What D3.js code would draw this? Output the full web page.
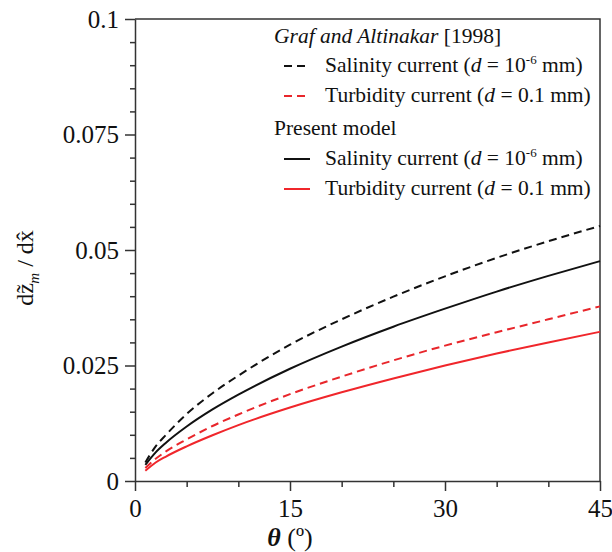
<!DOCTYPE html>
<html>
<head>
<meta charset="utf-8">
<script src="https://cdn.jsdelivr.net/npm/d3@7"></script>
</head>
<body>
<svg id="chart" width="612" height="552"></svg>
<script>
// Slope angle (degrees) at which each curve is sampled
const theta = [1, 2, 3, 5, 7.5, 10, 15, 20, 25, 30, 35, 40, 45];

// dz_m/dx for each case
const grafSalinity  = [0.0040, 0.0075, 0.0100, 0.0145, 0.0190, 0.0228, 0.0295, 0.0350, 0.0399, 0.0443, 0.0483, 0.0519, 0.0552];
const grafTurbidity = [0.0028, 0.0048, 0.0064, 0.0090, 0.0119, 0.0144, 0.0188, 0.0226, 0.0261, 0.0293, 0.0322, 0.0350, 0.0378];
const modelSalinity  = [0.0035, 0.0062, 0.0083, 0.0118, 0.0155, 0.0187, 0.0243, 0.0291, 0.0334, 0.0373, 0.0410, 0.0444, 0.0476];
const modelTurbidity = [0.0022, 0.0040, 0.0053, 0.0075, 0.0099, 0.0121, 0.0159, 0.0192, 0.0222, 0.0250, 0.0276, 0.0300, 0.0323];

const xTicks = [0, 15, 30, 45];
const xMinorTicks = [5, 10, 20, 25, 35, 40];
const yTicks = [0, 0.025, 0.05, 0.075, 0.1];
const yTickLabels = ["0", "0.025", "0.05", "0.075", "0.1"];

const FONT = "Liberation Serif";
document.body.style.margin = "0";
const svg = d3.select("#chart");
const plotLeft = 135, plotRight = 600, plotTop = 19, plotBottom = 481;

const x = d3.scaleLinear().domain([0, 45]).range([plotLeft, plotRight]);
const y = d3.scaleLinear().domain([0, 0.1]).range([plotBottom, plotTop]);

// Frame: top and right edges
svg.append("path")
  .attr("d", `M${plotLeft},${plotTop}H${plotRight}V${plotBottom}`)
  .attr("fill", "none").attr("stroke", "#333").attr("stroke-width", 1.5);

// X axis (major ticks labelled, minor ticks bare)
const xAxis = svg.append("g").attr("transform", `translate(0,${plotBottom})`);
xAxis.call(d3.axisBottom(x).tickValues(xTicks).tickSize(10).tickSizeOuter(0).tickPadding(8)
  .tickFormat(d3.format("d")));
xAxis.append("g").call(d3.axisBottom(x).tickValues(xMinorTicks).tickSize(6).tickFormat(""))
  .select(".domain").remove();

// Y axis
const yMinor = d3.range(0.005, 0.1, 0.005).filter(v => Math.abs(v / 0.025 - Math.round(v / 0.025)) > 1e-6);
const yAxis = svg.append("g").attr("transform", `translate(${plotLeft},0)`);
yAxis.call(d3.axisLeft(y).tickValues(yTicks).tickSize(10).tickSizeOuter(0).tickPadding(6)
  .tickFormat((d, i) => yTickLabels[i]));
yAxis.append("g").call(d3.axisLeft(y).tickValues(yMinor).tickSize(5).tickFormat(""))
  .select(".domain").remove();

svg.selectAll("g").attr("font-family", FONT);
svg.selectAll(".domain, .tick line").attr("stroke", "#333").attr("stroke-width", 1.5);
svg.selectAll(".tick text").attr("fill", "#111").attr("font-size", 25);
xAxis.selectAll(".tick text").attr("dy", "0.72em");

// Curves
const line = d3.line().x(d => x(d[0])).y(d => y(d[1])).curve(d3.curveMonotoneX);
const series = [
  { values: grafSalinity,   color: "#111",    dash: "8,5" },
  { values: grafTurbidity,  color: "#e8262b", dash: "8,5" },
  { values: modelSalinity,  color: "#111",    dash: null },
  { values: modelTurbidity, color: "#f0262b", dash: null }
];
series.forEach(s => {
  svg.append("path")
    .datum(theta.map((t, i) => [t, s.values[i]]))
    .attr("d", line)
    .attr("fill", "none")
    .attr("stroke", s.color)
    .attr("stroke-width", 2)
    .attr("stroke-dasharray", s.dash);
});

// Legend
const leg = svg.append("g").attr("font-family", FONT).attr("font-size", 21.5).attr("fill", "#111");
const head1 = leg.append("text").attr("x", 274).attr("y", 43);
head1.append("tspan").attr("font-style", "italic").text("Graf and Altinakar");
head1.append("tspan").text(" [1998]");
leg.append("text").attr("x", 274).attr("y", 135).text("Present model");

const entries = [
  { y: 72,  label: "Salinity current", d: "10", sup: "-6", unit: " mm)", s: series[0] },
  { y: 102, label: "Turbidity current", d: "0.1", sup: null, unit: " mm)", s: series[1] },
  { y: 165, label: "Salinity current", d: "10", sup: "-6", unit: " mm)", s: series[2] },
  { y: 195, label: "Turbidity current", d: "0.1", sup: null, unit: " mm)", s: series[3] }
];
entries.forEach(e => {
  leg.append("line")
    .attr("x1", 284).attr("x2", 310).attr("y1", e.y - 6).attr("y2", e.y - 6)
    .attr("stroke", e.s.color).attr("stroke-width", 2)
    .attr("stroke-dasharray", e.s.dash ? "8,5" : null);
  const t = leg.append("text").attr("x", 325).attr("y", e.y);
  t.append("tspan").text(e.label + " (");
  t.append("tspan").attr("font-style", "italic").text("d");
  t.append("tspan").text(" = " + e.d);
  if (e.sup) {
    t.append("tspan").attr("dy", -8).attr("font-size", 13).text(e.sup);
    t.append("tspan").attr("dy", 8).text(e.unit);
  } else {
    t.append("tspan").text(e.unit);
  }
});

// Axis titles: theta (degree sign)
const xt = svg.append("text").attr("x", 290).attr("y", 546).attr("text-anchor", "middle")
  .attr("font-size", 26).attr("fill", "#111");
xt.append("tspan").attr("font-style", "italic").attr("font-weight", "bold").text("\u03B8");
xt.append("tspan").text(" (\u00BA)");

// dz~_m / dx^ with the accents set as spacing marks above the letters
const yt = svg.append("text").attr("transform", "translate(33,268) rotate(-90)")
  .attr("text-anchor", "middle").attr("font-size", 24).attr("fill", "#111");
yt.append("tspan").text("dz");
yt.append("tspan").attr("dx", -9.5).text("\u02DC");
yt.append("tspan").attr("dx", 1).attr("dy", 6).attr("font-size", 15).attr("font-style", "italic").text("m");
yt.append("tspan").attr("dy", -6).text(" / dx");
yt.append("tspan").attr("dx", -10).text("\u02C6");

// Serif face on every label, set on the text nodes themselves
svg.selectAll("text").attr("font-family", FONT);
</script>
</body>
</html>
